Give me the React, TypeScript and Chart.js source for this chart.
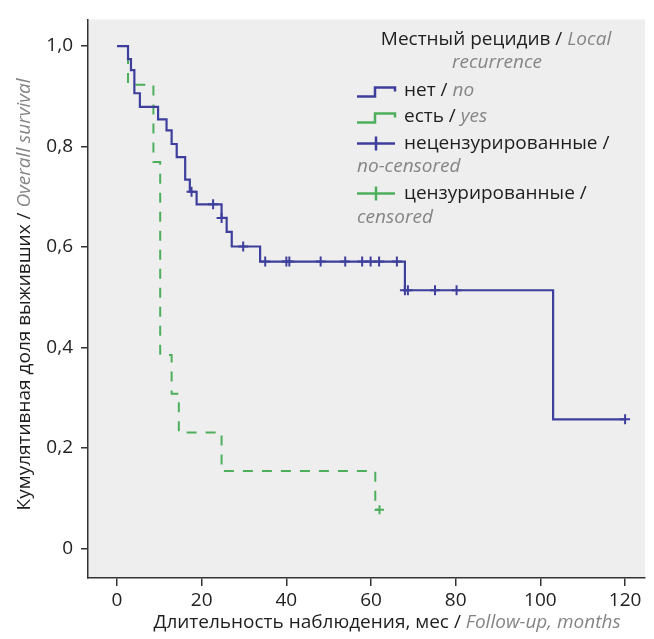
import React, { useEffect, useRef } from 'react';
import { Chart, registerables } from 'chart.js';

Chart.register(...registerables);

// ---------------- data ----------------
const xTicks = [0, 20, 40, 60, 80, 100, 120];
const yTicks = [0, 0.2, 0.4, 0.6, 0.8, 1.0];

// "нет / no" — Kaplan–Meier steps (month of drop, survival after drop)
const noMonths = [0, 2.6, 3.3, 4.1, 5.4, 9.7, 11.7, 12.9, 14.1, 16.1, 17.2, 18.8, 24.7, 25.9, 27.1, 33.8, 68, 103, 120];
const noSurvival = [1.0, 0.974, 0.952, 0.906, 0.879, 0.854, 0.832, 0.805, 0.779, 0.734, 0.71, 0.685, 0.658, 0.63, 0.601, 0.571, 0.514, 0.257, 0.257];
const noCensorMonths = [17.6, 22.7, 24.7, 29.8, 35, 40, 40.7, 48.1, 53.9, 57.9, 59.9, 61.9, 66.1, 68, 68.7, 75.1, 80.2, 120];
const noCensorSurvival = [0.71, 0.685, 0.658, 0.601, 0.571, 0.571, 0.571, 0.571, 0.571, 0.571, 0.571, 0.571, 0.571, 0.514, 0.514, 0.514, 0.514, 0.257];

// "есть / yes"
const yesMonths = [0, 2.6, 8.6, 10.2, 12.9, 14.6, 24.7, 61, 62];
const yesSurvival = [1.0, 0.923, 0.769, 0.385, 0.308, 0.231, 0.154, 0.077, 0.077];
const yesCensorMonths = [62];
const yesCensorSurvival = [0.077];

// ---------------- style ----------------
const FONT = '"Open Sans", "Noto Sans", sans-serif';
const BLUE = '#3e3f9c';
const GREEN = '#4dae5b';
const DARK = '#1e1e1e';
const GRAY = '#858585';
const FS = 19;

type Part = [string, boolean];

const xTitle: Part[] = [['Длительность наблюдения, мес / ', false], ['Follow-up, months', true]];
const yTitle: Part[] = [['Кумулятивная доля выживших / ', false], ['Overall survival', true]];
const legendTitle1: Part[] = [['Местный рецидив / ', false], ['Local', true]];
const legendTitle2: Part[] = [['recurrence', true]];
const legendNo: Part[] = [['нет / ', false], ['no', true]];
const legendYes: Part[] = [['есть / ', false], ['yes', true]];
const legendUnc1: Part[] = [['нецензурированные /', false]];
const legendUnc2: Part[] = [['no-censored', true]];
const legendCen1: Part[] = [['цензурированные /', false]];
const legendCen2: Part[] = [['censored', true]];

function fontFor(it: boolean, size: number) {
  return `${it ? 'italic ' : ''}${size}px ${FONT}`;
}
function measure(ctx: CanvasRenderingContext2D, parts: Part[], size: number) {
  let w = 0;
  for (const [t, it] of parts) {
    ctx.font = fontFor(it, size);
    w += ctx.measureText(t).width;
  }
  return w;
}
function drawParts(ctx: CanvasRenderingContext2D, parts: Part[], x: number, y: number, size: number) {
  let cx = x;
  ctx.textAlign = 'left';
  ctx.textBaseline = 'middle';
  for (const [t, it] of parts) {
    ctx.font = fontFor(it, size);
    ctx.fillStyle = it ? GRAY : DARK;
    ctx.fillText(t, cx, y);
    cx += ctx.measureText(t).width;
  }
}
function drawCentered(ctx: CanvasRenderingContext2D, parts: Part[], cx: number, y: number, size: number) {
  const w = measure(ctx, parts, size);
  drawParts(ctx, parts, cx - w / 2, y, size);
}

function stepIcon(ctx: CanvasRenderingContext2D, x: number, y: number, color: string) {
  ctx.save();
  ctx.strokeStyle = color;
  ctx.lineWidth = 2.5;
  ctx.beginPath();
  ctx.moveTo(x, y + 5);
  ctx.lineTo(x + 18, y + 5);
  ctx.lineTo(x + 18, y - 4);
  ctx.lineTo(x + 38, y - 4);
  ctx.lineTo(x + 38, y);
  ctx.stroke();
  ctx.restore();
}
function crossIcon(ctx: CanvasRenderingContext2D, x: number, y: number, color: string) {
  ctx.save();
  ctx.strokeStyle = color;
  ctx.lineWidth = 2.5;
  ctx.beginPath();
  ctx.moveTo(x, y);
  ctx.lineTo(x + 38, y);
  ctx.moveTo(x + 19, y - 7);
  ctx.lineTo(x + 19, y + 7);
  ctx.stroke();
  ctx.restore();
}

const decorPlugin = {
  id: 'decor',
  beforeDraw(chart: any) {
    const { ctx, chartArea: a } = chart;
    ctx.save();
    ctx.fillStyle = '#ffffff';
    ctx.fillRect(0, 0, chart.width, chart.height);
    ctx.fillStyle = '#eeeeee';
    ctx.fillRect(a.left, a.top, a.right - a.left, a.bottom - a.top);
    ctx.restore();
  },
  afterDraw(chart: any) {
    const { ctx, chartArea: a } = chart;
    ctx.save();
    // x title
    drawCentered(ctx, xTitle, a.left + 299, a.bottom + 45, FS);
    // y title
    ctx.save();
    ctx.translate(25, a.top + 275);
    ctx.rotate(-Math.PI / 2);
    drawCentered(ctx, yTitle, 0, 0, FS);
    ctx.restore();
    // legend
    const L = a.right - 288;
    const T = a.left + 316;
    const top = a.top;
    drawCentered(ctx, legendTitle1, a.right - 149, top + 20, FS);
    drawCentered(ctx, legendTitle2, a.right - 148, top + 43, FS);
    stepIcon(ctx, L, top + 72, BLUE);
    drawParts(ctx, legendNo, T, top + 71, FS);
    stepIcon(ctx, L, top + 98, GREEN);
    drawParts(ctx, legendYes, T, top + 97, FS);
    crossIcon(ctx, L, top + 124, BLUE);
    drawParts(ctx, legendUnc1, T, top + 124, FS);
    drawParts(ctx, legendUnc2, L, top + 147, FS);
    crossIcon(ctx, L, top + 174, GREEN);
    drawParts(ctx, legendCen1, T, top + 174, FS);
    drawParts(ctx, legendCen2, L, top + 198, FS);
    ctx.restore();
  },
};

const pts = (xs: number[], ys: number[]) => xs.map((x, i) => ({ x, y: ys[i] }));

export default function App() {
  const ref = useRef<HTMLCanvasElement>(null);
  useEffect(() => {
    const tickFont = { family: FONT, size: FS };
    const chart = new Chart(ref.current as HTMLCanvasElement, {
      type: 'line',
      data: {
        datasets: [
          {
            type: 'scatter',
            data: pts(noCensorMonths, noCensorSurvival),
            borderColor: BLUE,
            backgroundColor: BLUE,
            pointStyle: 'cross',
            pointRadius: 5,
            pointBorderWidth: 2,
          } as any,
          {
            type: 'scatter',
            data: pts(yesCensorMonths, yesCensorSurvival),
            borderColor: GREEN,
            backgroundColor: GREEN,
            pointStyle: 'cross',
            pointRadius: 4.5,
            pointBorderWidth: 2,
          } as any,
          {
            data: pts(noMonths, noSurvival),
            borderColor: BLUE,
            borderWidth: 2.2,
            stepped: true,
            pointRadius: 0,
            fill: false,
          },
          {
            data: pts(yesMonths, yesSurvival),
            borderColor: GREEN,
            borderWidth: 2,
            borderDash: [10, 9],
            stepped: true,
            pointRadius: 0,
            fill: false,
          },
        ],
      },
      options: {
        animation: false,
        responsive: false,
        devicePixelRatio: 1,
        layout: { padding: { top: 10, right: 9, left: 0, bottom: 0 } },
        plugins: { legend: { display: false }, tooltip: { enabled: false } },
        scales: {
          x: {
            type: 'linear',
            min: -6.85,
            max: 124.7,
            afterBuildTicks: (s: any) => {
              s.ticks = xTicks.map((v) => ({ value: v }));
            },
            afterFit: (s: any) => {
              s.height = 61;
            },
            grid: { display: true, drawOnChartArea: false, drawTicks: true, tickLength: 8, color: '#333', lineWidth: 1.5 },
            border: { display: true, color: '#333', width: 1.5 },
            ticks: { color: '#222', font: tickFont, padding: 3, maxRotation: 0, autoSkip: false, callback: (v: any) => String(v) },
          },
          y: {
            type: 'linear',
            min: -0.0587,
            max: 1.053,
            afterBuildTicks: (s: any) => {
              s.ticks = yTicks.map((v) => ({ value: v }));
            },
            afterFit: (s: any) => {
              s.width = 88;
            },
            grid: { display: true, drawOnChartArea: false, drawTicks: true, tickLength: 7, color: '#333', lineWidth: 1.5 },
            border: { display: true, color: '#333', width: 1.5 },
            ticks: {
              color: '#222',
              font: tickFont,
              padding: 8,
              autoSkip: false,
              callback: (v: any) => (Math.abs(v) < 1e-9 ? '0' : Number(v).toFixed(1).replace('.', ',')),
            },
          },
        },
      } as any,
      plugins: [decorPlugin],
    });
    return () => chart.destroy();
  }, []);
  return (
    <div style={{ position: 'fixed', left: 0, top: 0, width: 654, height: 639, background: '#fff' }}>
      <canvas ref={ref} width={654} height={639} style={{ display: 'block', width: 654, height: 639 }} />
    </div>
  );
}
